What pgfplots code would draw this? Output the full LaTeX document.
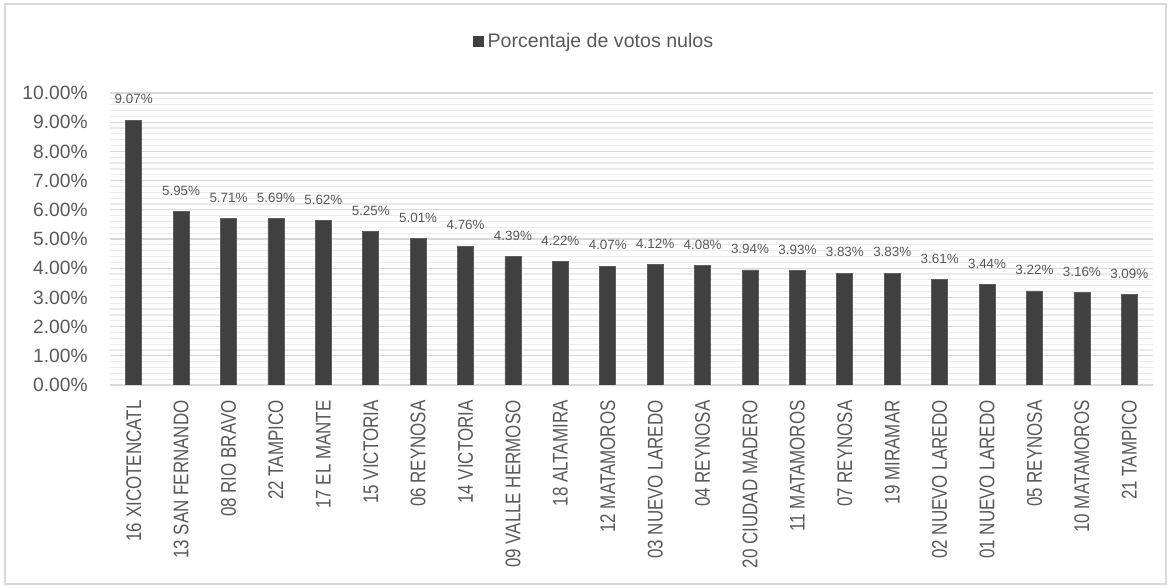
\documentclass[border=0pt]{standalone}
\usepackage{fontspec}
\setmainfont{Liberation Sans}
\newfontfamily\narrowfont[FakeStretch=0.8]{Liberation Sans}
\usepackage{pgfplots}
\pgfplotsset{compat=1.18}
\definecolor{bargray}{HTML}{404040}
\definecolor{txtgray}{HTML}{595959}
\definecolor{majgrid}{HTML}{D9D9D9}
\definecolor{mingrid}{HTML}{EBEBEB}
\begin{document}
\begin{tikzpicture}
\path[use as bounding box] (0,0) rectangle (585.5pt,294pt);
\draw[majgrid, line width=0.6pt] (2.5pt,2pt) rectangle (583pt,292pt);
\begin{axis}[
    at={(55pt,101.5pt)}, anchor=south west,
    scale only axis,
    width=521.5pt, height=146pt,
    ybar, bar width=8pt,
    xmin=-0.5, xmax=21.5,
    ymin=0, ymax=10,
    ytick={0,1,...,10},
    minor y tick num=4,
    ymajorgrids, yminorgrids,
    major grid style={majgrid, line width=0.6pt},
    minor grid style={mingrid, line width=0.6pt},
    axis line style={draw=none},
    major tick length=0pt, minor tick length=0pt,
    /pgf/number format/assume math mode=true,
    yticklabel={\pgfmathprintnumber[fixed,fixed zerofill,precision=2]{\tick}\%},
    yticklabel style={font=\fontsize{9.6}{10}\selectfont, text=txtgray, inner sep=0pt, xshift=-11pt},
    xtick=data,
    xticklabels={16 XICOTENCATL,13 SAN FERNANDO,08 RIO BRAVO,22 TAMPICO,17 EL MANTE,15 VICTORIA,06 REYNOSA,14 VICTORIA,09 VALLE HERMOSO,18 ALTAMIRA,12 MATAMOROS,03 NUEVO LAREDO,04 REYNOSA,20 CIUDAD MADERO,11 MATAMOROS,07 REYNOSA,19 MIRAMAR,02 NUEVO LAREDO,01 NUEVO LAREDO,05 REYNOSA,10 MATAMOROS,21 TAMPICO},
    xticklabel style={font=\narrowfont\fontsize{10.6}{12}\selectfont, text=txtgray, rotate=90, anchor=east, inner sep=0pt, xshift=-7.5pt},
    nodes near coords={\pgfmathprintnumber[fixed,fixed zerofill,precision=2]{\pgfplotspointmeta}\%},
    every node near coord/.append style={font=\fontsize{6.7}{7}\selectfont, text=txtgray, yshift=4.5pt},
    legend style={at={(0.465,1.175)}, anchor=center, draw=none, fill=none,
        font=\fontsize{9.8}{12}\selectfont, text=txtgray,
        /tikz/every even column/.append style={column sep=0pt}},
    legend image code/.code={\fill[bargray] (0.5pt,-2.5pt) rectangle (5.5pt,2.5pt);},
]
\addplot[fill=bargray, draw=bargray!85!white] coordinates {
(0,9.07) (1,5.95) (2,5.71) (3,5.69) (4,5.62) (5,5.25) (6,5.01) (7,4.76)
(8,4.39) (9,4.22) (10,4.07) (11,4.12) (12,4.08) (13,3.94) (14,3.93) (15,3.83)
(16,3.83) (17,3.61) (18,3.44) (19,3.22) (20,3.16) (21,3.09)};
\addlegendentry{Porcentaje de votos nulos}
\end{axis}
\end{tikzpicture}
\end{document}
